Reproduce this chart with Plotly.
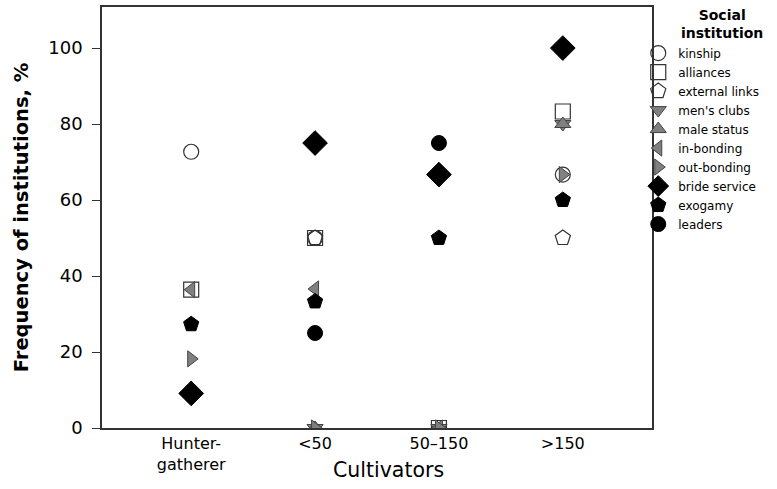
import plotly.graph_objects as go

categories = ["Hunter-<br>gatherer", "<50", "50–150", ">150"]

kinship = [72.7, 50, None, 66.7]
alliances = [36.4, 50, 0, 83.3]
external_links = [None, 50, None, 50]
mens_clubs = [None, 0, 0, 80]
male_status = [None, 0, None, 80]
in_bonding = [36.4, 36.6, 0, None]
out_bonding = [18.2, 0, 0, 66.7]
bride_service = [9.1, 75, 66.7, 100]
exogamy = [27.3, 33.3, 50, 60]
leaders = [None, 25, 75, None]

series = [
    ("kinship", kinship, "circle-open", 15, "#333333", None),
    ("alliances", alliances, "square-open", 15, "#333333", None),
    ("external links", external_links, "pentagon-open", 16, "#333333", None),
    ("men's clubs", mens_clubs, "triangle-down", 14, "#808080", "#444444"),
    ("male status", male_status, "triangle-up", 14, "#808080", "#444444"),
    ("in-bonding", in_bonding, "triangle-left", 14, "#808080", "#444444"),
    ("out-bonding", out_bonding, "triangle-right", 14, "#808080", "#444444"),
    ("bride service", bride_service, "diamond", 19, "#000000", "#000000"),
    ("exogamy", exogamy, "pentagon", 16, "#000000", "#000000"),
    ("leaders", leaders, "circle", 15, "#000000", "#000000"),
]

fig = go.Figure()
for name, vals, sym, size, col, line in series:
    if line is None:
        marker = dict(symbol=sym, size=size, color=col, line=dict(color=col, width=1.2))
    else:
        marker = dict(symbol=sym, size=size, color=col, line=dict(color=line, width=1))
    fig.add_trace(go.Scatter(x=categories, y=vals, mode="markers", name=name,
                             marker=marker))

fig.update_layout(
    width=777, height=489,
    margin=dict(l=102, r=125, t=7, b=61, autoexpand=False),
    paper_bgcolor="white", plot_bgcolor="white",
    font=dict(family="DejaVu Sans", color="#000000"),
    legend=dict(
        x=0.975, xanchor="left", y=0.925, yanchor="top",
        font=dict(size=12), itemwidth=30, tracegroupgap=0,
        bgcolor="rgba(0,0,0,0)", borderwidth=0,
    ),
    xaxis=dict(
        type="category", range=[-0.72, 3.72],
        showline=True, linecolor="#333333", linewidth=1.5, mirror=True,
        showgrid=False, ticks="", tickfont=dict(size=16),
        automargin=False,
    ),
    yaxis=dict(
        range=[0, 110.8], tickvals=[0, 20, 40, 60, 80, 100],
        showline=True, linecolor="#333333", linewidth=1.5, mirror=True,
        showgrid=False, zeroline=False, ticks="outside", ticklen=8, tickcolor="#333333",
        tickfont=dict(size=18), automargin=False, ticklabelstandoff=6,
        title=dict(text="<b>Frequency of institutions, %</b>", font=dict(size=19.5), standoff=14),
    ),
    annotations=[
        dict(text="Cultivators", xref="paper", yref="paper", x=0.52, y=0,
             yshift=-42, xanchor="center", yanchor="middle",
             showarrow=False, font=dict(size=20.5)),
        dict(text="<b>Social<br>institution</b>", xref="paper", yref="paper",
             x=1.0, xshift=70, y=1.0, yshift=2, xanchor="center", yanchor="top",
             align="center", showarrow=False, font=dict(size=14)),
    ],
)

fig.write_html("out.html", post_script="document.body.style.margin='0';",
               config={"displayModeBar": False})
